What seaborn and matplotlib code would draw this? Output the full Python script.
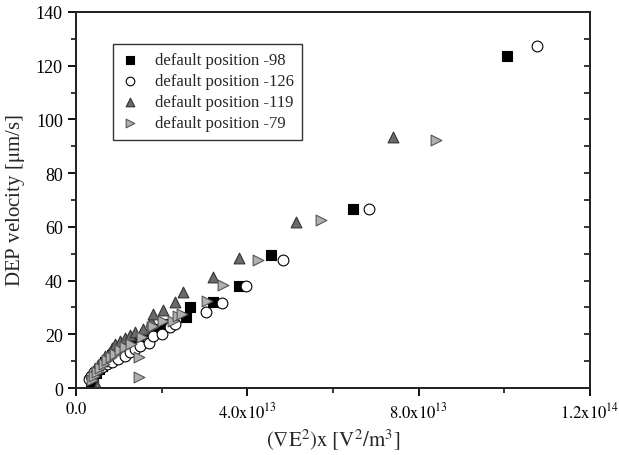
import matplotlib
matplotlib.use("Agg")
import matplotlib.pyplot as plt
import matplotlib.ticker as mticker
import numpy as np
import pandas as pd
import seaborn as sns

# x values in units of 1e13 V^2/m^3, y in um/s
sq_x = [0.35, 0.40, 0.46, 0.53, 0.60, 0.68, 0.76, 0.85, 0.95, 1.05, 1.17, 1.30,
        1.45, 1.62, 1.85, 2.10, 2.57, 2.66, 3.21, 3.81, 4.55, 6.46, 10.06]
sq_y = [2.5, 4.0, 5.5, 7.0, 8.3, 9.6, 11.0, 12.3, 13.5, 14.8, 16.0, 17.3,
        18.5, 20.0, 22.0, 24.0, 26.3, 30.0, 32.1, 37.9, 49.5, 66.6, 123.5]

ci_x = [0.30, 0.35, 0.42, 0.50, 0.60, 0.72, 0.84, 0.98, 1.15, 1.27, 1.38, 1.50,
        1.71, 1.80, 2.00, 2.19, 2.31, 3.03, 3.42, 3.96, 4.83, 6.83, 10.76]
ci_y = [3.4, 4.6, 5.8, 6.8, 7.8, 8.8, 9.8, 10.9, 12.0, 13.3, 14.5, 15.6,
        16.8, 19.5, 20.1, 22.6, 23.8, 28.2, 31.5, 37.9, 47.8, 66.6, 127.4]

tr_x = [0.49, 0.40, 0.45, 0.52, 0.60, 0.68, 0.76, 0.84, 0.92, 1.02, 1.14, 1.26,
        1.38, 1.57, 1.75, 1.80, 2.04, 2.31, 2.49, 3.21, 3.81, 5.13, 7.41]
tr_y = [0.9, 4.5, 7.1, 8.5, 10.0, 11.8, 13.2, 14.8, 16.4, 17.6, 18.8, 19.8,
        20.7, 22.0, 25.1, 27.5, 29.1, 31.9, 35.6, 41.2, 48.4, 61.7, 93.3]

rt_x = [0.38, 0.43, 0.50, 0.57, 0.65, 0.73, 0.82, 0.92, 1.03, 1.15, 1.28, 1.46,
        1.48, 1.55, 1.77, 1.80, 2.04, 2.27, 2.39, 2.47, 3.05, 3.44, 4.24, 5.71, 8.40]
rt_y = [3.0, 4.5, 6.0, 7.5, 9.0, 10.3, 11.6, 12.8, 14.0, 15.3, 16.5, 4.0,
        11.4, 19.0, 22.6, 23.2, 25.1, 25.1, 26.7, 27.5, 32.5, 38.3, 47.8, 62.5, 92.4]

labels = ["default position -98", "default position -126",
          "default position -119", "default position -79"]
xticks = [0, 4e13, 8e13, 1.2e14]
xtick_labels = [r"$\mathrm{0.0}$", r"$\mathrm{4.0x10^{13}}$",
                r"$\mathrm{8.0x10^{13}}$", r"$\mathrm{1.2x10^{14}}$"]

sns.set_style("ticks")
plt.rcParams["font.family"] = ["Liberation Serif", "DejaVu Serif"]
plt.rcParams["mathtext.fontset"] = "stix"

fig = plt.figure(figsize=(6.19, 4.56), dpi=100)
ax = fig.add_axes([0.1228, 0.1469, 0.8302, 0.8246])

series = [
    (sq_x, sq_y, "s", "black", "black"),
    (ci_x, ci_y, "o", "white", "black"),
    (tr_x, tr_y, "^", "#6a6a6a", "#333333"),
    (rt_x, rt_y, ">", "#b0b0b0", "#555555"),
]
for (xs, ys, m, fc, ec), lab in zip(series, labels):
    df = pd.DataFrame({"x": np.array(xs) * 1e13, "y": ys})
    sns.scatterplot(data=df, x="x", y="y", marker=m, color=fc, edgecolor=ec,
                    linewidth=0.8, s=60, label=lab, ax=ax, zorder=3)

ax.set_xlim(0, 1.2e14)
ax.set_ylim(0, 140)
ax.set_xticks(xticks)
ax.set_xticklabels(xtick_labels)
ax.xaxis.set_minor_locator(mticker.MultipleLocator(2e13))
ax.yaxis.set_major_locator(mticker.MultipleLocator(20))
ax.yaxis.set_minor_locator(mticker.MultipleLocator(10))

for side in ["left", "right", "top", "bottom"]:
    ax.spines[side].set_visible(True)
    ax.spines[side].set_linewidth(1.3)
    ax.spines[side].set_color("black")

ax.tick_params(axis="both", which="major", direction="out", length=6, width=1.3,
               labelsize=13, colors="black")
ax.tick_params(axis="x", which="major", labelsize=12)
ax.tick_params(axis="both", which="minor", direction="out", length=3.5, width=1.3)

# right axis: inward ticks, no labels
ax2 = ax.twinx()
ax2.set_ylim(0, 140)
ax2.yaxis.set_major_locator(mticker.MultipleLocator(20))
ax2.yaxis.set_minor_locator(mticker.MultipleLocator(10))
ax2.tick_params(axis="y", which="both", direction="in", length=4, width=1.3,
                labelright=False)
ax2.set_ylabel("")
for side in ["left", "right", "top", "bottom"]:
    ax2.spines[side].set_linewidth(1.3)

ax.set_xlabel(r"$(\nabla \mathrm{E}^2)\mathrm{x}\ [\mathrm{V}^2/\mathrm{m}^3]$", fontsize=15, labelpad=4)
ax.set_ylabel(r"DEP velocity [$\mathrm{\mu}$m/s]", fontsize=15, labelpad=6)

leg = ax.legend(loc="upper left", bbox_to_anchor=(0.072, 0.915), borderaxespad=0,
                fontsize=12, frameon=True, fancybox=False, edgecolor="black",
                borderpad=0.5, handlelength=1.0, handletextpad=1.0,
                labelspacing=0.3, markerscale=0.8)
leg.get_frame().set_linewidth(1.0)

fig.savefig("out.png", dpi=100)
